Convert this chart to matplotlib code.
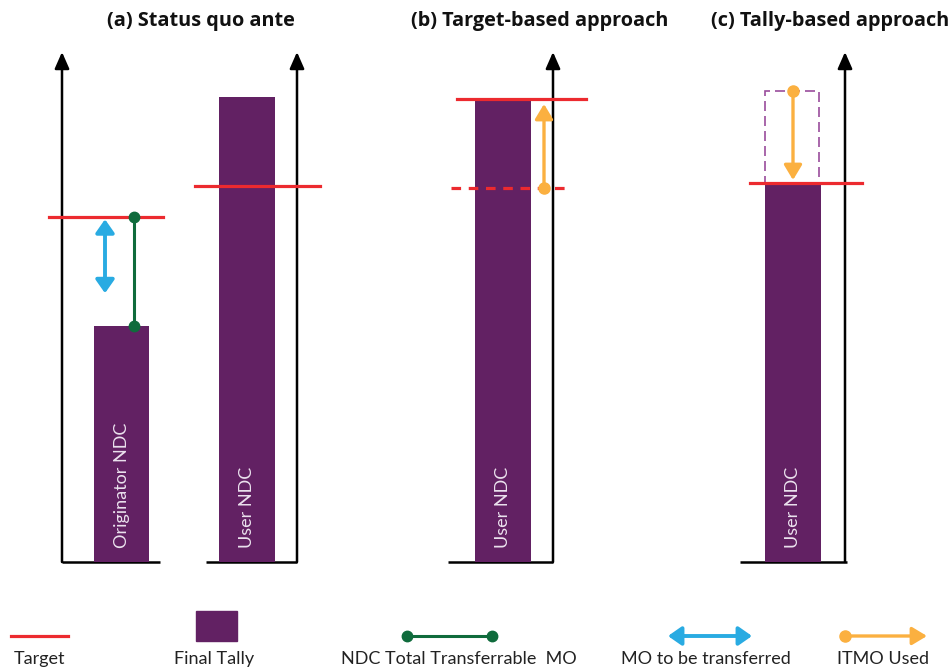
import matplotlib.pyplot as plt
from matplotlib.patches import FancyArrowPatch, Rectangle

plt.rcParams['font.family'] = ['Lato', 'DejaVu Sans']

# values in chart units (0 = baseline, 100 = top of the axis arrows)
bar_labels = ["Originator NDC", "User NDC", "User NDC", "User NDC"]
final_tally = [46.3, 91.2, 90.8, 74.3]
targets = [67.6, 73.7, 90.8, 74.3]
old_target_b = 73.3          # dashed target before ITMO use, panel (b)
itmo_top_c = 92.4            # top of ITMO box, panel (c)
mo_transfer = [67.2, 52.7]   # blue arrow, panel (a)
itmo_b = [73.3, 89.8]        # orange arrow, panel (b): from -> to
itmo_c = [92.4, 74.9]        # orange arrow, panel (c): from -> to
titles = ["(a) Status quo ante", "(b) Target-based approach", "(c) Tally-based approach"]
legend_labels = ["Target", "Final Tally", "NDC Total Transferrable  MO",
                 "MO to be transferred", "ITMO Used"]

PURPLE = '#622163'
RED = '#ec2a2f'
GREEN = '#0f6b3c'
BLUE = '#29abe2'
ORANGE = '#fbb040'

# layout (pixel based)
BASE, SCALE = 562, 5.1
def py(ypix):
    return (BASE - ypix) / SCALE

fig = plt.figure(figsize=(9.52, 6.71), dpi=100)
ax = fig.add_axes([0, 0, 1, 1])
ax.set_xlim(0, 952)
ax.set_ylim(py(671), py(0))
ax.axis('off')

bar_x = [121.5, 247, 503, 793]
bar_w = [55, 56, 56, 56]
target_span = [(49, 163), (195, 320), (457, 586), (750, 862)]
axes_x = [62, 297, 553, 845]
base_span = [(62, 160), (206, 297), (448, 553), (740, 847)]


def arrow(p0, p1, color, style, lw, hl, hw, z=5):
    ax.add_patch(FancyArrowPatch(p0, p1, arrowstyle=f'{style},head_length={hl},head_width={hw}',
                                 mutation_scale=20, lw=lw, color=color, shrinkA=0, shrinkB=0, zorder=z))


# axes
for x in axes_x:
    arrow((x, 0), (x, 100), 'black', '-|>', 1.8, 0.5, 0.22, z=1)
for x0, x1 in base_span:
    ax.plot([x0, x1], [0, 0], color='black', lw=1.8, solid_capstyle='butt')

# bars
ax.bar(bar_x, final_tally, width=bar_w, color=PURPLE, zorder=2)
for x, lab in zip(bar_x, bar_labels):
    ax.text(x, py(548), lab, rotation=90, ha='center', va='bottom', color='#ebe2ee',
            fontsize=13, zorder=3)

# targets
for (x0, x1), t in zip(target_span, targets):
    ax.plot([x0, x1], [t, t], color=RED, lw=2.3, zorder=4)
ax.plot([451, 570], [old_target_b, old_target_b], color=RED, lw=2.3, ls=(0, (3, 2.4)), zorder=4)

# panel (a): total transferrable MO and MO to be transferred
ax.plot([134, 134], [targets[0], final_tally[0]], color=GREEN, lw=2.2, marker='o', ms=7.5, zorder=6)
arrow((105, mo_transfer[0]), (105, mo_transfer[1]), BLUE, '<|-|>', 2.8, 0.4, 0.28)

# panel (b): ITMO used raises target
ax.plot(544, itmo_b[0], 'o', color=ORANGE, ms=8, zorder=6)
arrow((544, itmo_b[0]), (544, itmo_b[1]), ORANGE, '-|>', 2.4, 0.45, 0.27)

# panel (c): ITMO box subtracted from tally
ax.add_patch(Rectangle((765, final_tally[3]), 54, itmo_top_c - final_tally[3], fill=False,
                       edgecolor='#9a4d9c', lw=1.2, ls=(0, (6, 3)), zorder=3))
ax.plot(793, itmo_c[0], 'o', color=ORANGE, ms=8, zorder=6)
arrow((793, itmo_c[0]), (793, itmo_c[1]), ORANGE, '-|>', 2.4, 0.45, 0.27)

# titles
for x, t in zip([201, 540, 830], titles):
    ax.text(x, py(21), t, ha='center', va='center', fontsize=14.3, fontweight='bold',
            family=['Open Sans', 'DejaVu Sans'], color='#111111')

# legend
ly, ty = py(636), py(659)
ax.plot([11, 68], [ly, ly], color=RED, lw=2.3)
ax.add_patch(Rectangle((196, py(641)), 41, py(611) - py(641), color=PURPLE))
ax.plot([407, 492], [ly, ly], color=GREEN, lw=2.2, marker='o', ms=7.5)
arrow((668, ly), (752, ly), BLUE, '<|-|>', 2.8, 0.4, 0.28)
ax.plot(845, ly, 'o', color=ORANGE, ms=8)
arrow((845, ly), (927, ly), ORANGE, '-|>', 2.4, 0.45, 0.27)
for x, lab in zip([40, 214, 459, 706, 883], legend_labels):
    ax.text(x, ty, lab, ha='center', va='center', fontsize=13, color='#222222')

fig.savefig('out.png', dpi=100)
